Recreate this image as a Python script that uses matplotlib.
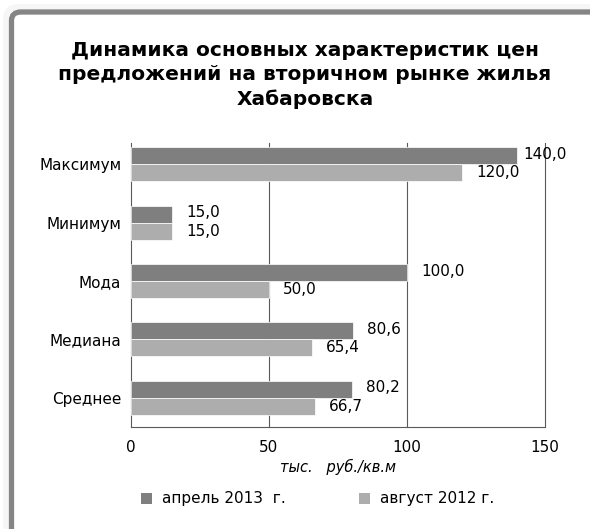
import numpy as np
import matplotlib.pyplot as plt
from matplotlib.patches import FancyBboxPatch, Rectangle

plt.rcParams['font.family'] = ['DejaVu Sans']

categories = ['Максимум', 'Минимум', 'Мода', 'Медиана', 'Среднее']
april_2013 = [140.0, 15.0, 100.0, 80.6, 80.2]
august_2012 = [120.0, 15.0, 50.0, 65.4, 66.7]
series_names = ['апрель 2013  г.', 'август 2012 г.']
x_ticks = [0, 50, 100, 150]

dark = '#7f7f7f'
light = '#adadad'

fig = plt.figure(figsize=(5.90, 5.29), dpi=100)
W, H = 590, 529

# frame around the whole chart (open to the right and bottom)
shadow = FancyBboxPatch((6 / W, -0.2), 1.2, (H - 7) / H + 0.2,
                        boxstyle='round,pad=0,rounding_size=0.02',
                        transform=fig.transFigure, facecolor='none',
                        edgecolor='#f6f6f6', lw=4, zorder=0)
fig.patches.append(shadow)
frame = FancyBboxPatch((11.5 / W, -0.2), 1.2, (H - 12) / H + 0.2,
                       boxstyle='round,pad=0,rounding_size=0.016',
                       transform=fig.transFigure, facecolor='white',
                       edgecolor='#858585', lw=3.8, zorder=1)
fig.patches.append(frame)

ax = fig.add_axes([131 / W, 1 - 427 / H, 414 / W, 292 / H])
ax.set_zorder(2)
ax.patch.set_alpha(0)

y = np.arange(len(categories))
h = 0.29
ax.barh(y - h / 2, april_2013, height=h, color=dark, edgecolor='white', lw=0.5, zorder=3)
ax.barh(y + h / 2, august_2012, height=h, color=light, edgecolor='white', lw=0.5, zorder=3)

for i, (a, b) in enumerate(zip(april_2013, august_2012)):
    off_a = 4 if a >= 140 else 10
    ax.annotate(f'{a:.1f}'.replace('.', ','), (a, i - h / 2), xytext=(off_a, 1),
                textcoords='offset points', va='center', ha='left', fontsize=11, zorder=4)
    ax.annotate(f'{b:.1f}'.replace('.', ','), (b, i + h / 2), xytext=(10, 0),
                textcoords='offset points', va='center', ha='left', fontsize=11, zorder=4)

ax.set_xlim(0, 150)
ax.set_ylim(len(categories) - 0.5, -0.5)
ax.set_yticks(y)
ax.set_yticklabels(categories, fontsize=11)
ax.set_xticks(x_ticks)
ax.set_xticklabels([str(t) for t in x_ticks], fontsize=11)
ax.tick_params(length=0)
ax.tick_params(axis='x', pad=9)
ax.tick_params(axis='y', pad=7)

top = 1 - 8 / 292
for t in x_ticks:
    ax.axvline(t, ymin=0, ymax=top, color='#5a5a5a', lw=0.8, zorder=2, clip_on=False)
for s in ['top', 'right', 'left']:
    ax.spines[s].set_visible(False)
ax.spines['bottom'].set_color('#5a5a5a')
ax.spines['bottom'].set_linewidth(0.8)

fig.text(338 / W, 1 - 467 / H, 'тыс.   руб./кв.м', style='italic', fontsize=10.5,
         ha='center', va='center')

fig.text(305 / W, 1 - 75 / H,
         'Динамика основных характеристик цен\nпредложений на вторичном рынке жилья\nХабаровска',
         ha='center', va='center', fontsize=14.5, fontweight='bold', linespacing=1.36)

# legend
for px, col, name in [(146.5, dark, series_names[0]), (364.5, light, series_names[1])]:
    fig.patches.append(Rectangle(((px - 5.5) / W, 1 - 503.5 / H), 11 / W, 11 / H,
                                 transform=fig.transFigure, facecolor=col,
                                 edgecolor='none', zorder=3))
    fig.text((px + 15) / W, 1 - 498 / H, name, fontsize=11, ha='left', va='center')

fig.savefig('out.png', dpi=100)
